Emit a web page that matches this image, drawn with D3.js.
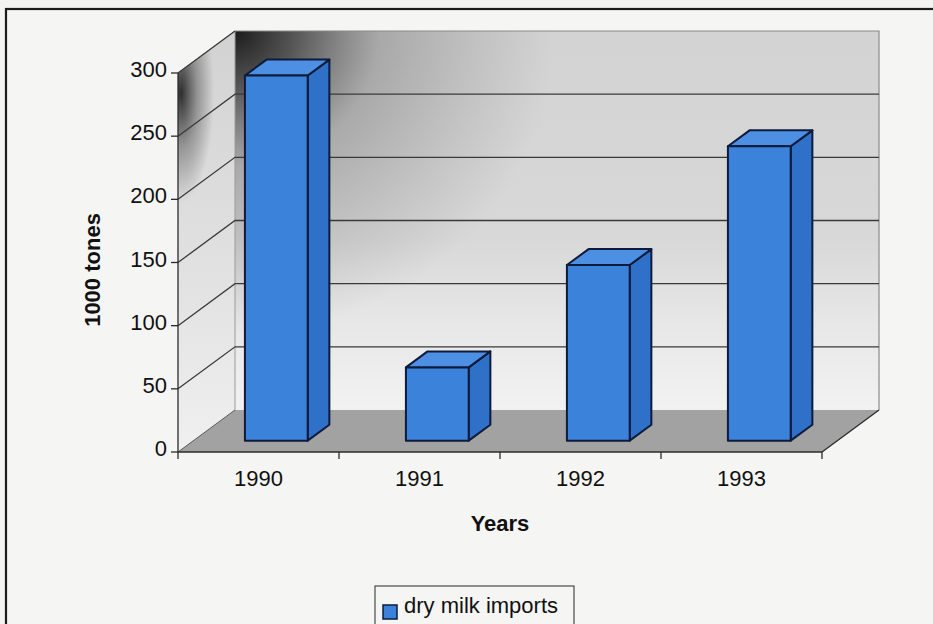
<!DOCTYPE html>
<html>
<head>
<meta charset="utf-8">
<script src="https://cdn.jsdelivr.net/npm/d3@7"></script>
<style>
  html, body { margin: 0; padding: 0; background: #f3f3f1; }
  svg { display: block; }
  text { font-family: "Liberation Sans", Arial, sans-serif; fill: #111; }
</style>
</head>
<body>
<svg id="chart" width="933" height="624"></svg>
<script>
// Dry milk imports, thousand tonnes
const years = ["1990", "1991", "1992", "1993"];
const imports = [289, 58, 139, 233];
const yTicks = [0, 50, 100, 150, 200, 250, 300];
const seriesName = "dry milk imports";

const svg = d3.select("#chart");
const W = 933, H = 624;

// 3D plot geometry: front plane and depth offset vector
const plot = { left: 178, right: 822, bottom: 452, top: 73 };
const depth = { dx: 57, dy: -42 };
const barFront = 0.27, barBack = 0.65;   // depth fractions of the bar faces

const x = d3.scaleBand().domain(years).range([plot.left, plot.right]);
const y = d3.scaleLinear().domain([0, 300]).range([plot.bottom, plot.top]);

const defs = svg.append("defs");

// back wall: lighter toward the floor, dark shadow in the upper-left corner
const wallGrad = defs.append("linearGradient").attr("id", "wallV")
  .attr("x1", 0).attr("y1", 0).attr("x2", 0).attr("y2", 1);
wallGrad.append("stop").attr("offset", "0%").attr("stop-color", "#d3d3d3");
wallGrad.append("stop").attr("offset", "55%").attr("stop-color", "#d8d8d8");
wallGrad.append("stop").attr("offset", "75%").attr("stop-color", "#e6e6e6");
wallGrad.append("stop").attr("offset", "100%").attr("stop-color", "#f2f2f2");

const cx0 = plot.left + depth.dx, cy0 = plot.top + depth.dy;
const wallShade = defs.append("radialGradient").attr("id", "wallShade")
  .attr("gradientUnits", "userSpaceOnUse")
  .attr("cx", cx0).attr("cy", cy0).attr("r", 320)
  .attr("gradientTransform", `translate(${cx0},${cy0}) scale(1,0.95) translate(${-cx0},${-cy0})`);
wallShade.append("stop").attr("offset", "0%").attr("stop-color", "#111").attr("stop-opacity", 0.95);
wallShade.append("stop").attr("offset", "18%").attr("stop-color", "#222").attr("stop-opacity", 0.72);
wallShade.append("stop").attr("offset", "45%").attr("stop-color", "#444").attr("stop-opacity", 0.3);
wallShade.append("stop").attr("offset", "100%").attr("stop-color", "#555").attr("stop-opacity", 0);

// side wall: dark strip along the upper front edge
const sx = plot.left + 3, sy = plot.top + 20;
const sideShade = defs.append("radialGradient").attr("id", "sideShade")
  .attr("gradientUnits", "userSpaceOnUse")
  .attr("cx", sx).attr("cy", sy).attr("r", 110)
  .attr("gradientTransform", `translate(${sx},${sy}) scale(0.3,1) translate(${-sx},${-sy})`);
sideShade.append("stop").attr("offset", "0%").attr("stop-color", "#1a1a1a").attr("stop-opacity", 0.9);
sideShade.append("stop").attr("offset", "50%").attr("stop-color", "#333").attr("stop-opacity", 0.4);
sideShade.append("stop").attr("offset", "100%").attr("stop-color", "#333").attr("stop-opacity", 0);

const sideGrad = defs.append("linearGradient").attr("id", "sideV")
  .attr("x1", 0).attr("y1", 0).attr("x2", 0).attr("y2", 1);
sideGrad.append("stop").attr("offset", "0%").attr("stop-color", "#d2d2d2");
sideGrad.append("stop").attr("offset", "60%").attr("stop-color", "#e2e2e2");
sideGrad.append("stop").attr("offset", "100%").attr("stop-color", "#f0f0f0");

// outer chart frame
svg.append("rect")
  .attr("x", 6).attr("y", 9).attr("width", W + 20).attr("height", H + 20)
  .attr("fill", "#f5f5f3").attr("stroke", "#1c1c1c").attr("stroke-width", 2.2);

const pt = (px, py) => `${px},${py}`;
const y0 = y(0), yMax = y(300);
const bx0 = plot.left + depth.dx, bx1 = plot.right + depth.dx;

// back wall
const backPoly = [pt(bx0, yMax + depth.dy), pt(bx1, yMax + depth.dy), pt(bx1, y0 + depth.dy), pt(bx0, y0 + depth.dy)].join(" ");
svg.append("polygon").attr("points", backPoly).attr("fill", "url(#wallV)");
svg.append("polygon").attr("points", backPoly).attr("fill", "url(#wallShade)");

// side wall
const sidePoly = [pt(plot.left, y0), pt(plot.left, yMax), pt(bx0, yMax + depth.dy), pt(bx0, y0 + depth.dy)].join(" ");
svg.append("polygon").attr("points", sidePoly).attr("fill", "url(#sideV)");
svg.append("polygon").attr("points", sidePoly).attr("fill", "url(#sideShade)");

// floor
svg.append("polygon")
  .attr("points", [pt(plot.left, y0), pt(plot.right, y0), pt(bx1, y0 + depth.dy), pt(bx0, y0 + depth.dy)].join(" "))
  .attr("fill", "#a2a2a2");

// wall outlines
svg.append("path")
  .attr("d", `M${bx0},${yMax + depth.dy}H${bx1}V${y0 + depth.dy}`)
  .attr("fill", "none").attr("stroke", "#8a8a8a").attr("stroke-width", 1.2);
svg.append("line")
  .attr("x1", bx0).attr("x2", bx0).attr("y1", yMax + depth.dy).attr("y2", y0 + depth.dy)
  .attr("stroke", "#9a9a9a").attr("stroke-width", 1);
svg.append("line")
  .attr("x1", plot.left).attr("y1", yMax).attr("x2", bx0).attr("y2", yMax + depth.dy)
  .attr("stroke", "#b0b0b0").attr("stroke-width", 1);

// gridlines on the side and back walls
const grid = svg.append("g").attr("stroke", "#3a3a3a").attr("stroke-width", 1.3).attr("fill", "none");
yTicks.filter(v => v > 0).forEach(v => {
  const yy = y(v);
  grid.append("path")
    .attr("d", `M${plot.left},${yy}L${bx0},${yy + depth.dy}` + (v < 300 ? `H${bx1}` : ""));
});

// floor edges
svg.append("path")
  .attr("d", `M${plot.right},${y0}L${bx1},${y0 + depth.dy}`)
  .attr("stroke", "#2a2a2a").attr("stroke-width", 1.3).attr("fill", "none");
svg.append("path")
  .attr("d", `M${plot.left},${y0}L${bx0},${y0 + depth.dy}`)
  .attr("stroke", "#5a5a5a").attr("stroke-width", 1).attr("fill", "none");

// bars as 3D boxes
const bw = x.bandwidth() * 0.39;
const bars = svg.append("g").attr("stroke", "#0e1b3a").attr("stroke-width", 2).attr("stroke-linejoin", "round");
years.forEach((yr, i) => {
  const v = imports[i];
  const fx = x(yr) + x.bandwidth() * 0.32 + barFront * depth.dx;
  const fyBase = y(0) + barFront * depth.dy;
  const fyTop = y(v) + barFront * depth.dy;
  const ox = (barBack - barFront) * depth.dx, oy = (barBack - barFront) * depth.dy;
  // right side face
  bars.append("polygon")
    .attr("points", [pt(fx + bw, fyBase), pt(fx + bw, fyTop), pt(fx + bw + ox, fyTop + oy), pt(fx + bw + ox, fyBase + oy)].join(" "))
    .attr("fill", "#2f71c9");
  // top face
  bars.append("polygon")
    .attr("points", [pt(fx, fyTop), pt(fx + bw, fyTop), pt(fx + bw + ox, fyTop + oy), pt(fx + ox, fyTop + oy)].join(" "))
    .attr("fill", "#4c8fe3");
  // front face
  bars.append("rect")
    .attr("x", fx).attr("y", fyTop).attr("width", bw).attr("height", fyBase - fyTop)
    .attr("fill", "#3b82db");
});

// value axis
const yAxis = svg.append("g");
yAxis.append("line")
  .attr("x1", plot.left).attr("x2", plot.left).attr("y1", y0).attr("y2", yMax)
  .attr("stroke", "#2a2a2a").attr("stroke-width", 1.3);
yTicks.forEach(v => {
  yAxis.append("line")
    .attr("x1", plot.left - 7).attr("x2", plot.left).attr("y1", y(v)).attr("y2", y(v))
    .attr("stroke", "#2a2a2a").attr("stroke-width", 1.3);
  yAxis.append("text")
    .attr("x", plot.left - 11).attr("y", y(v) + 4)
    .attr("text-anchor", "end")
    .attr("font-size", 22)
    .text(v);
});

// category axis
const xAxis = svg.append("g");
xAxis.append("line")
  .attr("x1", plot.left).attr("x2", plot.right).attr("y1", y0).attr("y2", y0)
  .attr("stroke", "#2a2a2a").attr("stroke-width", 1.3);
years.concat([null]).forEach(yr => {
  const tx = yr === null ? plot.right : x(yr);
  xAxis.append("line")
    .attr("x1", tx).attr("x2", tx).attr("y1", y0).attr("y2", y0 + 7)
    .attr("stroke", "#2a2a2a").attr("stroke-width", 1.3);
});
years.forEach(yr => {
  xAxis.append("text")
    .attr("x", x(yr) + x.bandwidth() / 2).attr("y", 486)
    .attr("text-anchor", "middle")
    .attr("font-size", 22)
    .text(yr);
});

// axis titles
svg.append("text")
  .attr("x", (plot.left + plot.right) / 2).attr("y", 531)
  .attr("text-anchor", "middle").attr("font-size", 22).attr("font-weight", "bold")
  .text("Years");
svg.append("text")
  .attr("transform", "translate(100,270) rotate(-90)")
  .attr("text-anchor", "middle").attr("font-size", 22).attr("font-weight", "bold")
  .text("1000 tones");

// legend
const legend = svg.append("g");
legend.append("rect")
  .attr("x", 375).attr("y", 586).attr("width", 199).attr("height", 60)
  .attr("fill", "#f5f5f3").attr("stroke", "#4a4a4a").attr("stroke-width", 1.2);
legend.append("rect")
  .attr("x", 383).attr("y", 605).attr("width", 14).attr("height", 14)
  .attr("fill", "#3b82db").attr("stroke", "#0e1b3a").attr("stroke-width", 1.5);
legend.append("text")
  .attr("x", 404).attr("y", 613)
  .attr("font-size", 22)
  .attr("textLength", 154).attr("lengthAdjust", "spacingAndGlyphs")
  .text(seriesName);
</script>
</body>
</html>
